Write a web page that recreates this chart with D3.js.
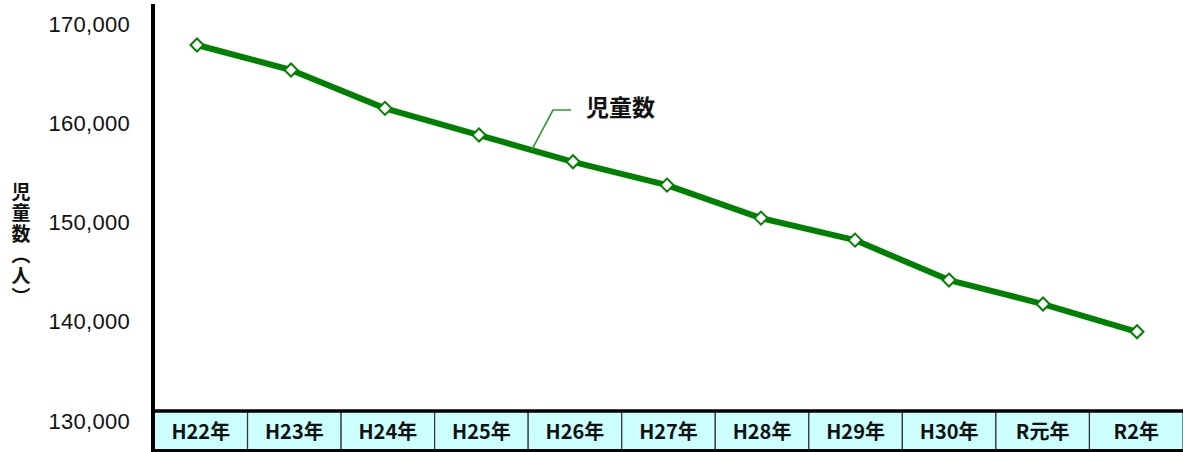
<!DOCTYPE html>
<html>
<head>
<meta charset="utf-8">
<script src="https://cdn.jsdelivr.net/npm/d3@7"></script>
<style>
  body { margin: 0; background: #fff; }
  svg { display: block; }
</style>
</head>
<body>
<div id="chart"></div>
<script>
// data
const years = ['H22年', 'H23年', 'H24年', 'H25年', 'H26年', 'H27年', 'H28年', 'H29年', 'H30年', 'R元年', 'R2年'];
const children = [167930, 165410, 161540, 158850, 156150, 153800, 150470, 148250, 144220, 141800, 139000];
const yTicks = [130000, 140000, 150000, 160000, 170000];
const seriesName = '児童数';
const yTitle = '児童数（人）';

const width = 1183, height = 452;
const jp = '"Noto Sans CJK JP", "Noto Sans", sans-serif';

const svg = d3.select('#chart').append('svg')
  .attr('width', width)
  .attr('height', height);

// scales
const y = d3.scaleLinear().domain([130000, 170000]).range([421, 24.5]);
const xCell = d3.scaleBand().domain(years).range([154, 1183]);
const x = d3.scalePoint().domain(years).range([197, 1137]);

// y axis labels
const yAxis = svg.append('g')
  .attr('transform', 'translate(153,0)')
  .call(d3.axisLeft(y).tickValues(yTicks).tickSize(0).tickPadding(23).tickFormat(d3.format(',')));
yAxis.select('.domain').remove();
yAxis.selectAll('text')
  .attr('font-family', '"Liberation Sans", Arial, sans-serif')
  .attr('font-size', 22)
  .attr('letter-spacing', 0.3)
  .attr('fill', '#111');

// axis title (vertical)
svg.append('text')
  .attr('x', 21)
  .attr('y', 182)
  .attr('writing-mode', 'vertical-rl')
  .attr('font-family', jp)
  .attr('font-weight', 'bold')
  .attr('font-size', 19)
  .attr('letter-spacing', 2)
  .attr('fill', '#111')
  .text(yTitle);

// category table under the plot
const cells = svg.append('g');
cells.selectAll('rect')
  .data(years)
  .join('rect')
  .attr('x', d => xCell(d))
  .attr('y', 411)
  .attr('width', xCell.bandwidth())
  .attr('height', 39)
  .attr('fill', '#ccffff')
  .attr('stroke', '#333')
  .attr('stroke-width', 1.2);
cells.selectAll('text')
  .data(years)
  .join('text')
  .attr('x', d => xCell(d) + xCell.bandwidth() / 2)
  .attr('y', 438.5)
  .attr('text-anchor', 'middle')
  .attr('font-family', jp)
  .attr('font-weight', 'bold')
  .attr('font-size', 20)
  .attr('fill', '#111')
  .text(d => d);

// frame lines
svg.append('line')
  .attr('x1', 153).attr('x2', 153)
  .attr('y1', 4).attr('y2', 452)
  .attr('stroke', '#000').attr('stroke-width', 4);
svg.append('line')
  .attr('x1', 151).attr('x2', 1183)
  .attr('y1', 411).attr('y2', 411)
  .attr('stroke', '#000').attr('stroke-width', 3.5);
svg.append('line')
  .attr('x1', 151).attr('x2', 1183)
  .attr('y1', 450.5).attr('y2', 450.5)
  .attr('stroke', '#000').attr('stroke-width', 3);

// line
const line = d3.line()
  .x((d, i) => x(years[i]))
  .y(d => y(d));

svg.append('path')
  .datum(children)
  .attr('d', line)
  .attr('fill', 'none')
  .attr('stroke', '#008000')
  .attr('stroke-width', 6)
  .attr('stroke-linejoin', 'round');

// leader line to series label (between H25 and H26)
const lx = x(years[3]) + (x(years[4]) - x(years[3])) * 0.56;
const ly = y(children[3]) + (y(children[4]) - y(children[3])) * 0.56;
svg.append('polyline')
  .attr('points', [[lx, ly], [553, 110], [571, 110]].map(p => p.join(',')).join(' '))
  .attr('fill', 'none')
  .attr('stroke', '#2e9a2e')
  .attr('stroke-width', 1.6);
svg.append('text')
  .attr('x', 586)
  .attr('y', 116)
  .attr('font-family', jp)
  .attr('font-weight', 'bold')
  .attr('font-size', 23)
  .attr('fill', '#111')
  .text(seriesName);

// markers
svg.append('g').selectAll('path')
  .data(children)
  .join('path')
  .attr('transform', (d, i) => `translate(${x(years[i])},${y(d)})`)
  .attr('d', 'M0,-6.5L6.5,0L0,6.5L-6.5,0Z')
  .attr('fill', '#fff')
  .attr('stroke', '#008000')
  .attr('stroke-width', 2);
</script>
</body>
</html>
